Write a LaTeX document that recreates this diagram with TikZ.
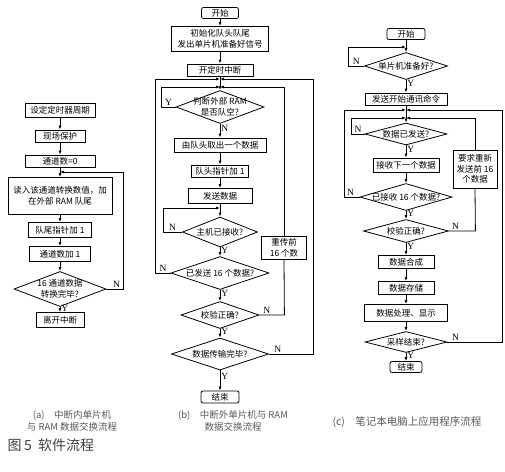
\documentclass[tikz,border=0pt]{standalone}
\usepackage{fontspec}
\setmainfont{Noto Sans CJK SC}
\newfontfamily\ynfont{Liberation Serif}
\usetikzlibrary{arrows.meta, shapes.geometric}

\begin{document}
\begin{tikzpicture}[x=1pt, y=-1pt, line width=0.8pt,
  box/.style={draw, rectangle, inner sep=1pt, align=center,
    font=\fontsize{8.5}{10.5}\selectfont},
  term/.style={box, rounded corners=2pt},
  dia/.style={draw, diamond, inner sep=0pt},
  dtext/.style={align=center, inner sep=0pt, font=\fontsize{8.5}{10.5}\selectfont},
  flow/.style={-{Latex[length=4pt,width=3pt]}},
  yn/.style={font=\ynfont\fontsize{9.5}{10}\selectfont, inner sep=1pt},
  captxt/.style={align=center, text=black!65, font=\fontsize{9.5}{12}\selectfont}]

\useasboundingbox (0,0) rectangle (505,471);

%% ── (a) interrupt inside MCU ────────────────────
\node[box, minimum width=70pt, minimum height=14pt] (a1) at (60,110) {设定定时器周期};
\node[box, minimum width=50pt, minimum height=12pt] (a2) at (60,136) {现场保护};
\node[box, minimum width=70pt, minimum height=12pt] (a3) at (60,161) {通道数=0};
\node[box, minimum width=104pt, minimum height=37pt] (a4) at (60,196) {读入该通道转换数值，加\\在外部 RAM 队尾};
\node[box, minimum width=63pt, minimum height=15pt] (a5) at (60,230) {队尾指针加 1};
\node[box, minimum width=61pt, minimum height=15pt] (a6) at (60,254) {通道数加 1};
\node[dia, minimum width=92pt, minimum height=35pt,
  label={[dtext]center:16 通道数据\\转换完毕?}] (a7) at (60,289) {};
\node[box, minimum width=48pt, minimum height=15pt] (a8) at (60,320) {离开中断};
\coordinate (ja) at (60,172);

\draw[flow] (a1) -- (a2);
\draw[flow] (a2) -- (a3);
\draw[flow] (a3) -- (a4);
\draw[flow] (a4) -- (a5);
\draw[flow] (a5) -- (a6);
\draw[flow] (a6) -- (a7);
\draw[flow] (a7) -- node[yn, right, pos=0.3] {Y} (a8);
% next channel
\draw[flow] (a7.east) -- node[yn, above, pos=0.6] {N} ++(17,0) |- (ja);

%% ── (b) interrupt outside MCU ───────────────────
\node[term, minimum width=37pt, minimum height=11pt] (b0) at (220,13) {开始};
\node[box, minimum width=97pt, minimum height=25pt] (b1) at (220,39) {初始化队头队尾\\发出单片机准备好信号};
\node[box, minimum width=66pt, minimum height=12pt] (b2) at (220,70) {开定时中断};
\node[dia, minimum width=88pt, minimum height=33pt,
  label={[dtext]center:判断外部 RAM\\是否队空?}] (b3) at (220,107) {};
\node[box, minimum width=92pt, minimum height=14pt] (b4) at (220,145) {由队头取出一个数据};
\node[box, minimum width=57pt, minimum height=12pt] (b5) at (220,171) {队头指针加 1};
\node[box, minimum width=64pt, minimum height=15pt] (b6) at (220,196) {发送数据};
\node[dia, minimum width=75pt, minimum height=30pt,
  label={[dtext]center:主机已接收?}] (b7) at (220,232) {};
\node[dia, minimum width=98pt, minimum height=33pt,
  label={[dtext]center:已发送 16 个数据?}] (b8) at (220,273) {};
\node[dia, minimum width=78pt, minimum height=27pt,
  label={[dtext]center:校验正确?}] (b9) at (220,315) {};
\node[dia, minimum width=97pt, minimum height=32pt,
  label={[dtext]center:数据传输完毕?}] (b10) at (220,354) {};
\node[term, minimum width=38pt, minimum height=12pt] (b11) at (220,397) {结束};
\node[box, minimum width=45pt, minimum height=23pt] (b12) at (284,248) {重传前\\16 个数};
\coordinate (jb1) at (220,79);
\coordinate (jb2) at (220,87);
\coordinate (jb3) at (220,208);

\draw[flow] (b0) -- (b1);
\draw[flow] (b1) -- (b2);
\draw[flow] (b2) -- (b3);
\draw[flow] (b3) -- node[yn, right, pos=0.3] {N} (b4);
\draw[flow] (b4) -- (b5);
\draw[flow] (b5) -- (b6);
\draw[flow] (b6) -- (b7);
\draw[flow] (b7) -- node[yn, right, pos=0.3] {Y} (b8);
\draw[flow] (b8) -- node[yn, right, pos=0.3] {Y} (b9);
\draw[flow] (b9) -- node[yn, right, pos=0.3] {Y} (b10);
\draw[flow] (b10) -- node[yn, right, pos=0.3] {Y} (b11);
% loops back to the top
\draw[flow] (b3.west) -- node[yn, above, pos=0.5] {Y} ++(-14,0) |- (jb2);
\draw[flow] (b7.west) -- node[yn, above, pos=0.5] {N} ++(-19,0) |- (jb3);
\draw[flow] (b8.west) -- node[yn, above, pos=0.5] {N} ++(-15,0) |- (jb1);
\draw (b9.east) -- node[yn, above, pos=0.3] {N} ++(25,0) -- (b12.south);
\draw[flow] (b12.north) |- (jb2);
\draw[flow] (b10.east) -- node[yn, above, pos=0.2] {N} ++(44.5,0) |- (jb1);

%% ── (c) notebook program ────────────────────────
\node[term, minimum width=38pt, minimum height=11pt] (c0) at (406,34) {开始};
\node[dia, minimum width=83pt, minimum height=27pt,
  label={[dtext]center:单片机准备好?}] (c1) at (406,66) {};
\node[box, minimum width=82pt, minimum height=12pt] (c2) at (406,99) {发送开始通讯命令};
\node[dia, minimum width=82pt, minimum height=22pt,
  label={[dtext]center:数据已发送?}] (c3) at (406,134) {};
\node[box, minimum width=66pt, minimum height=14pt] (c4) at (406,165) {接收下一个数据};
\node[dia, minimum width=92pt, minimum height=27pt,
  label={[dtext]center:已接收 16 个数据?}] (c5) at (406,197) {};
\node[dia, minimum width=85pt, minimum height=23pt,
  label={[dtext]center:校验正确?}] (c6) at (406,231) {};
\node[box, minimum width=56pt, minimum height=13pt] (c7) at (406,262) {数据合成};
\node[box, minimum width=56pt, minimum height=13pt] (c8) at (406,288) {数据存储};
\node[box, minimum width=83pt, minimum height=17pt] (c9) at (406,313) {数据处理、显示};
\node[dia, minimum width=82pt, minimum height=21pt,
  label={[dtext]center:采样结束?}] (c10) at (406,342) {};
\node[term, minimum width=32pt, minimum height=11pt] (c11) at (406,367) {结束};
\node[box, minimum width=44pt, minimum height=38pt] (c12) at (475,169) {要求重新\\发送前 16\\个数据};
\coordinate (jc0) at (406,47);
\coordinate (jc1) at (406,110);
\coordinate (jc2) at (406,118);

\draw[flow] (c0) -- (c1);
\draw[flow] (c1) -- node[yn, right, pos=0.3] {Y} (c2);
\draw[flow] (c2) -- (c3);
\draw[flow] (c3) -- node[yn, right, pos=0.3] {Y} (c4);
\draw[flow] (c4) -- (c5);
\draw[flow] (c5) -- node[yn, right, pos=0.3] {Y} (c6);
\draw[flow] (c6) -- node[yn, right, pos=0.3] {Y} (c7);
\draw[flow] (c7) -- (c8);
\draw[flow] (c8) -- (c9);
\draw[flow] (c9) -- (c10);
\draw[flow] (c10) -- node[yn, right, pos=0.3] {Y} (c11);
% loops back to the top
\draw[flow] (c1.west) -- node[yn, above, pos=0.5] {N} ++(-15.5,0) |- (jc0);
\draw[flow] (c3.west) -- node[yn, above, pos=0.5] {N} ++(-13,0) |- (jc2);
\draw[flow] (c5.west) -- node[yn, above, pos=0.6] {N} ++(-15,0) |- (jc1);
\draw (c6.east) -- node[yn, above, pos=0.25] {N} ++(26.5,0) -- (c12.south);
\draw[flow] (c12.north) |- (jc2);
\draw[flow] (c10.east) -- node[yn, above, pos=0.15] {N} ++(55,0) |- (jc1);

%% ── captions ────────────────────────────────────
\node[captxt] (capa) at (72,421) {(a)\quad 中断内单片机\\与 RAM 数据交换流程};
\node[captxt] (capb) at (233,421) {(b)\quad 中断外单片机与 RAM\\数据交换流程};
\node[captxt, font=\fontsize{10.5}{12}\selectfont] (capc) at (407,422) {(c)\quad 笔记本电脑上应用程序流程};
\node[anchor=west, text=black!75, font=\fontsize{14}{16}\selectfont] (title) at (4,445) {图\,5\ \ 软件流程};

\end{tikzpicture}
\end{document}
